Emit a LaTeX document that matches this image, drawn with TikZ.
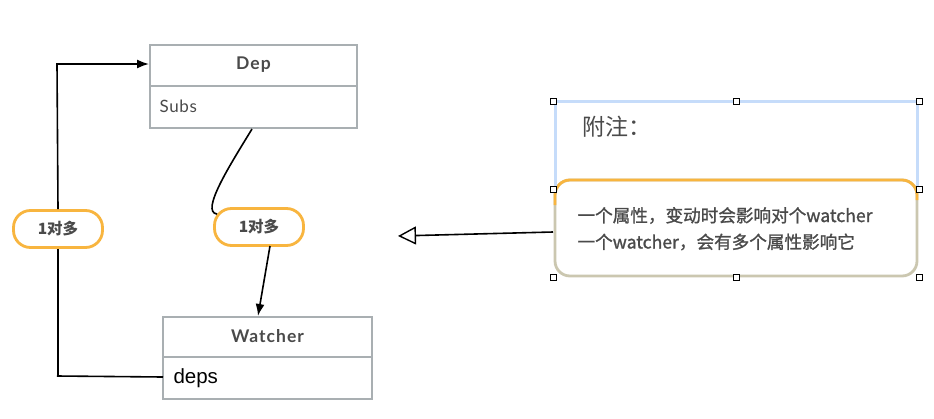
\documentclass[tikz,border=0pt]{standalone}
\usepackage{fontspec}
\setmainfont{Lato}
\newfontfamily\cjk{Noto Sans CJK SC}
\newfontfamily\cjkmed[FakeBold=1.2]{Noto Sans CJK SC}
\newfontfamily\helv{Liberation Sans}
\usetikzlibrary{arrows.meta}
\definecolor{boxgray}{HTML}{A9AFB2}
\definecolor{textgray}{HTML}{4A4A4A}
\definecolor{lblorange}{HTML}{F8B53F}
\definecolor{selblue}{HTML}{C6DCFA}
\definecolor{notebeige}{HTML}{CBC7B0}
\tikzset{
  classbox/.style={draw=boxgray,line width=2.4pt,fill=white},
  headtext/.style={font=\bfseries\fontsize{17.5}{20}\selectfont\addfontfeature{LetterSpace=6},text=textgray},
  tagbox/.style={draw=lblorange,line width=2.8pt,rounded corners=17pt,fill=white,
    minimum width=89pt,minimum height=37pt,font=\cjk\bfseries\fontsize{15.5}{18}\selectfont,text=textgray},
  handle/.style={draw=black,fill=white,line width=0.6pt,minimum size=6pt,inner sep=0pt},
  notetext/.style={anchor=west,font=\cjkmed\fontsize{17.6}{20}\selectfont,text=textgray},
  link/.style={line width=1.6pt,black},
}
\begin{document}
\begin{tikzpicture}[x=1pt,y=-1pt,>={Latex[length=12pt,width=9pt]}]
\useasboundingbox (0,0) rectangle (934,418);
%% Dep
\draw[classbox] (150,45) rectangle (357,128);
\draw[boxgray,line width=2.4pt] (150,86) -- (357,86);
\node (dep) at (253.5,86.5) [inner sep=0pt,minimum width=207pt,minimum height=83pt] {};
\node (dephead) at (253.5,65) [headtext] {Dep};
\node (subs) at (156,106) [anchor=west,font=\fontsize{17}{20}\selectfont\addfontfeature{LetterSpace=4},text=textgray] {Subs};
%% Watcher
\draw[classbox] (163,317) rectangle (372,399);
\draw[boxgray,line width=2.4pt] (163,357) -- (372,357);
\node (watcher) at (267.5,358) [inner sep=0pt,minimum width=209pt,minimum height=82pt] {};
\node (watchhead) at (267.5,336) [headtext] {Watcher};
\node (deps) at (170,378) [anchor=west,font=\helv\fontsize{20.5}{24}\selectfont] {deps};
%% links
\node (tagleft) at (58,229) [tagbox] {1对多};
\node (tagmid) at (259,227) [tagbox] {1对多};
\coordinate (depsend) at (163,377);
\coordinate (bottomleft) at (57,376);
\coordinate (topleft) at (57,64);
\coordinate (depin) at (149,64);
\draw[link] (depsend) -- (bottomleft) -- (tagleft.south|-bottomleft);
\draw[link] (tagleft.south|-bottomleft) -- (tagleft.south);
\draw[link,->] (tagleft.north) -- (topleft) -- (depin);
\coordinate (depout) at (252,129);
\coordinate (hook) at (217,214);
\draw[link] (depout) .. controls (230,165) and (200,212) .. (hook);
\coordinate (tagout) at (270,246);
\coordinate (watchin) at (258,316);
\draw[link,->] (tagout) -- (watchin);
%% note
\node (notebox) at (736,228) [draw=notebeige,line width=2.8pt,rounded corners=15pt,fill=white,
  minimum width=362pt,minimum height=96pt] {};
\draw[lblorange,line width=2.8pt] (555,205) -- (555,195) arc[start angle=180,end angle=90,radius=15pt] -- (902,180) arc[start angle=90,end angle=0,radius=15pt] -- (917,200);
\draw[selblue,line width=3pt] (555,189) -- (555,101) -- (917,101) -- (917,189);
\node (notetitle) at (579,127) [anchor=west,font=\cjk\fontsize{23}{26}\selectfont,text=textgray] {附注：};
\node (noteline1) at (574,215.5) [notetext] {一个属性，变动时会影响对个watcher};
\node (noteline2) at (574,242) [notetext] {一个watcher，会有多个属性影响它};
\foreach \hx/\hy in {553/101,736/101,919/101,553/189,919/189,553/277,736/277,919/277}
  \node[handle] at (\hx,\hy) {};
\coordinate (noteout) at (553,232);
\coordinate (notetip) at (398,236);
\draw[link,-{Triangle[open,length=18pt,width=18pt,line width=1.4pt]}] (noteout) -- (notetip);
\end{tikzpicture}
\end{document}
